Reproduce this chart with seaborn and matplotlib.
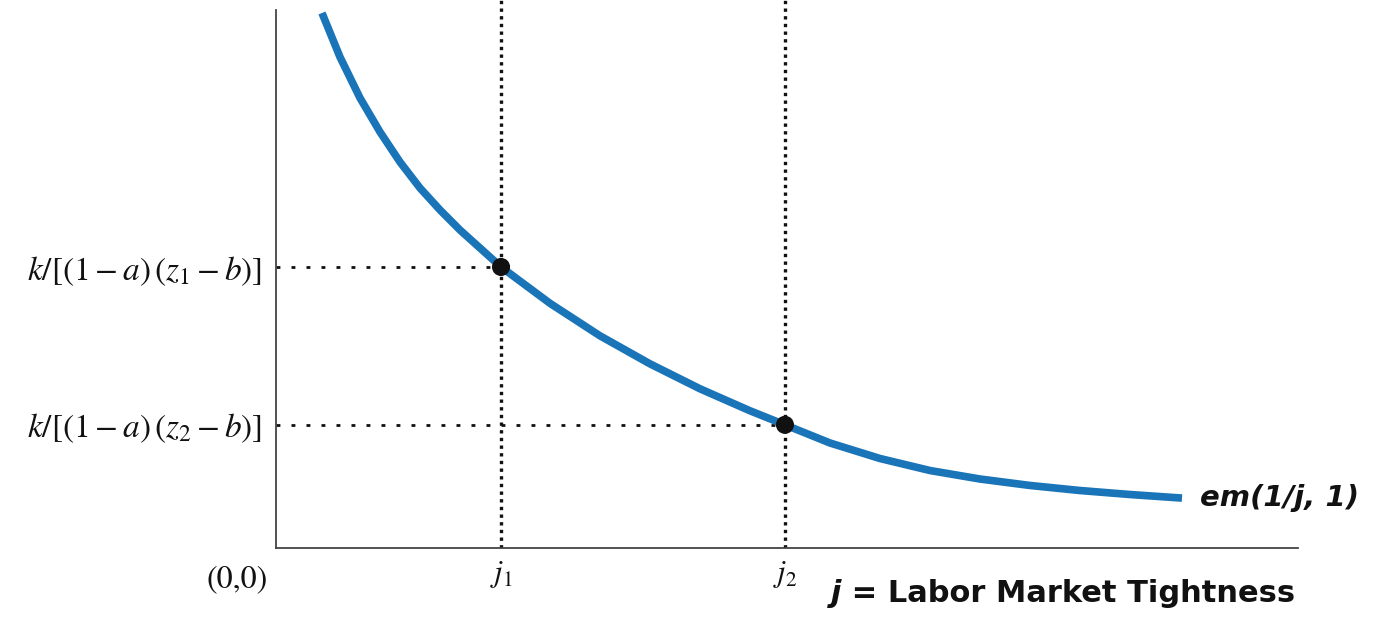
import matplotlib
matplotlib.use("Agg")
import matplotlib.pyplot as plt
import seaborn as sns
import pandas as pd

# ---- data ----
j_vals = [0.450, 0.626, 0.822, 1.018, 1.213, 1.409, 1.605, 1.800, 1.996, 2.202,
          2.681, 3.170, 3.659, 4.149, 4.638, 4.980, 5.421, 5.910, 6.399, 6.888,
          7.378, 7.867, 8.356, 8.865]
em_vals = [9.763, 8.960, 8.212, 7.591, 7.044, 6.569, 6.168, 5.803, 5.474, 5.128,
           4.465, 3.872, 3.361, 2.905, 2.504, 2.248, 1.916, 1.633, 1.414, 1.259,
           1.141, 1.049, 0.976, 0.911]
point_j = [2.202, 4.980]
point_y = [5.128, 2.248]
x_tick_labels = [r"$j_1$", r"$j_2$"]
y_tick_labels = [r"$k/[(1-a)\,(z_1-b)]$", r"$k/[(1-a)\,(z_2-b)]$"]
origin_label = "(0,0)"
curve_label = "em(1/j, 1)"
x_axis_var = "j"
x_axis_text = " = Labor Market Tightness"

sns.set_theme(style="white")
plt.rcParams["mathtext.fontset"] = "stix"
plt.rcParams["font.family"] = ["DejaVu Sans"]

W, H = 1373, 620
fig = plt.figure(figsize=(W / 100, H / 100), dpi=100)
ax = fig.add_axes([276 / W, (H - 548) / H, (1298 - 276) / W, 548 / H])
ax.set_xlim(0, 10)
ax.set_ylim(0, 10)

curve = pd.DataFrame({"j": j_vals, "em": em_vals})
pts = pd.DataFrame({"j": point_j, "em": point_y})

# dotted guide lines
for pj, py in zip(point_j, point_y):
    ax.plot([pj, pj], [0, 10], color="#111111", lw=2.4,
            dashes=(1.0, 1.3), zorder=1)
    ax.plot([0, pj], [py, py], color="#111111", lw=2.0,
            dashes=(1.4, 4.0), zorder=1)

sns.lineplot(data=curve, x="j", y="em", ax=ax, color="#1a74b8", lw=5.5,
             sort=True, zorder=3, solid_capstyle="butt", solid_joinstyle="round")
sns.scatterplot(data=pts, x="j", y="em", ax=ax, color="#111111", s=170,
                marker="o", edgecolor="none", zorder=4)

# spines
sns.despine(ax=ax)
for side in ("left", "bottom"):
    ax.spines[side].set_color("#444444")
    ax.spines[side].set_linewidth(1.3)
ax.spines["left"].set_bounds(0, (548 - 10) / 54.8)

ax.set_xticks(point_j, x_tick_labels)
ax.set_yticks(point_y, y_tick_labels)
ax.tick_params(axis="both", length=0, colors="#111111")
ax.tick_params(axis="y", pad=10, labelsize=24)
ax.tick_params(axis="x", pad=8, labelsize=22)
ax.set_xlabel("")
ax.set_ylabel("")

ax.annotate(origin_label, xy=(0, 0), xycoords="axes fraction",
            xytext=(-6, -12), textcoords="offset points",
            ha="right", va="top", fontsize=23, family="STIXGeneral",
            color="#111111")
ax.annotate(curve_label, xy=(j_vals[-1], em_vals[-1]), xycoords="data",
            xytext=(13, 0), textcoords="offset points", ha="left",
            va="center", fontsize=21, fontweight="bold", fontstyle="italic",
            color="#111111", annotation_clip=False)
lab = ax.annotate(x_axis_text, xy=(1, 0), xycoords="axes fraction",
                  xytext=(-2, -33), textcoords="offset points", ha="right",
                  va="center", fontsize=22, fontweight="bold", color="#111111")
ax.annotate(x_axis_var, xy=(0, 0.5), xycoords=lab, ha="right", va="center",
            fontsize=22, fontweight="bold", fontstyle="italic", color="#111111")

fig.savefig("out.png", dpi=100)
